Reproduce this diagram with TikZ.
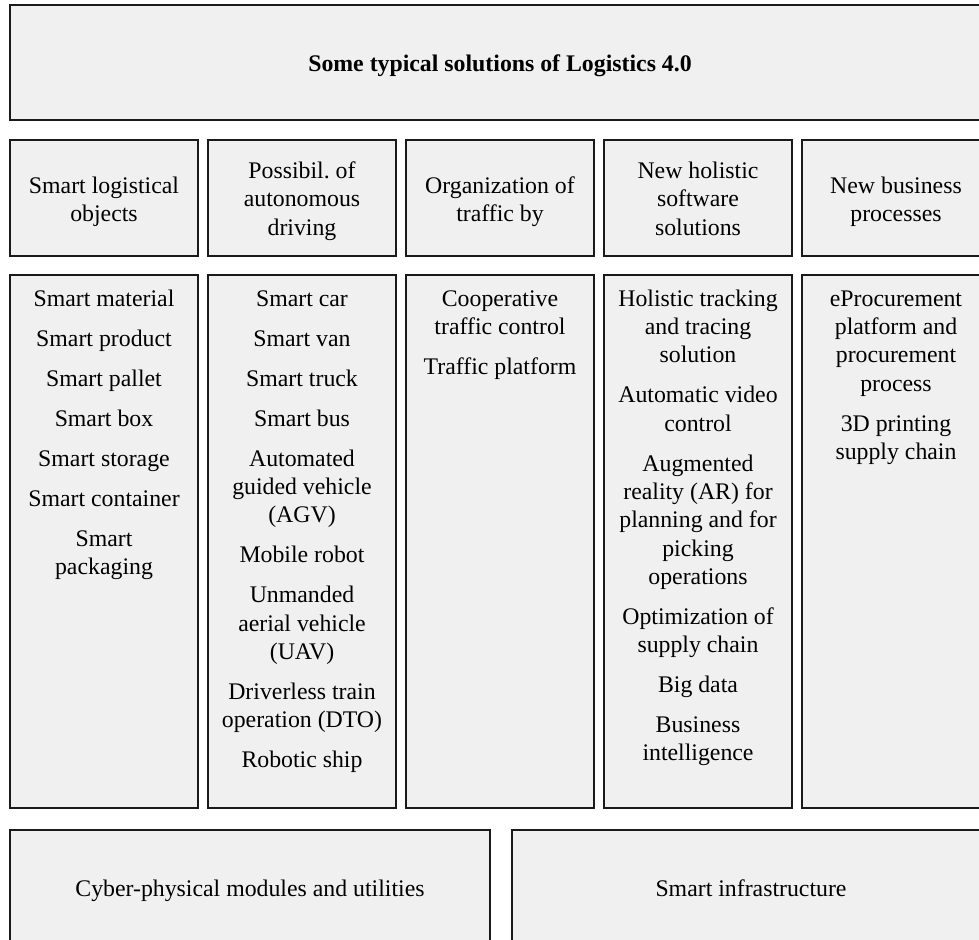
\documentclass[tikz,border=0pt]{standalone}
\usepackage{fontspec}
\setmainfont{Liberation Serif}
\frenchspacing
\definecolor{boxgray}{HTML}{F0F0F0}
\definecolor{edge}{HTML}{1A1A1A}
\begin{document}
\begin{tikzpicture}[x=1pt,y=-1pt,
  box/.style={draw=edge, fill=boxgray, line width=1.1pt, rectangle, inner sep=0pt, outer sep=0pt},
  hdr/.style={box, minimum width=188pt, minimum height=116pt},
  col/.style={box, minimum width=188pt, minimum height=533pt},
  txt/.style={font=\fontsize{23.8}{28.3}\selectfont, align=center, inner sep=0pt, anchor=north}]
\useasboundingbox (0,0) rectangle (979,939);
\clip (0,0) rectangle (979,939);
\fill[white] (0,0) rectangle (979,939);
% boxes
\node[box, minimum width=980pt, minimum height=115pt] (top) at (500,62.5) {};
\node[hdr] (h1) at (104,198) {};
\node[hdr] (h2) at (302,198) {};
\node[hdr] (h3) at (500,198) {};
\node[hdr] (h4) at (698,198) {};
\node[hdr] (h5) at (896,198) {};
\node[col] (c1) at (104,541.5) {};
\node[col] (c2) at (302,541.5) {};
\node[col] (c3) at (500,541.5) {};
\node[col] (c4) at (698,541.5) {};
\node[col] (c5) at (896,541.5) {};
\node[box, minimum width=480pt, minimum height=120pt] (b1) at (250,890) {};
\node[box, minimum width=478pt, minimum height=120pt] (b2) at (751,890) {};
% title
\node[txt, anchor=base] (title) at (500,71.7) {\bfseries Some typical solutions of Logistics 4.0};
% headers
\node[txt] (t1) at (104,173.5) {\strut Smart logistical\\objects};
\node[txt] (t2) at (302,158.5) {\strut Possibil. of\\autonomous\\driving};
\node[txt] (t3) at (500,173.5) {\strut Organization of\\traffic by};
\node[txt] (t4) at (698,158.5) {\strut New holistic\\software\\solutions};
\node[txt] (t5) at (896,173.5) {\strut New business\\processes};
% columns
\node[txt] (l1) at (104,286.2) {\strut Smart material\\[11.7pt]Smart product\\[11.7pt]Smart pallet\\[11.7pt]Smart box\\[11.7pt]Smart storage\\[11.7pt]Smart container\\[11.7pt]Smart\\packaging};
\node[txt] (l2) at (302,286.2) {\strut Smart car\\[11.7pt]Smart van\\[11.7pt]Smart truck\\[11.7pt]Smart bus\\[11.7pt]Automated\\guided vehicle\\(AGV)\\[11.7pt]Mobile robot\\[11.7pt]Unmanded\\aerial vehicle\\(UAV)\\[11.7pt]Driverless train\\operation (DTO)\\[11.7pt]Robotic ship};
\node[txt] (l3) at (500,286.2) {\strut Cooperative\\traffic control\\[11.7pt]Traffic platform};
\node[txt] (l4) at (698,286.2) {\strut Holistic tracking\\and tracing\\solution\\[11.7pt]Automatic video\\control\\[11.7pt]Augmented\\reality (AR) for\\planning and for\\picking\\operations\\[11.7pt]Optimization of\\supply chain\\[11.7pt]Big data\\[11.7pt]Business\\intelligence};
\node[txt] (l5) at (896,286.2) {\strut eProcurement\\platform and\\procurement\\process\\[11.7pt]3D printing\\supply chain};
% bottom
\node[txt, anchor=base] (m1) at (250,896) {Cyber-physical modules and utilities};
\node[txt, anchor=base] (m2) at (751,896) {Smart infrastructure};
\end{tikzpicture}
\end{document}
